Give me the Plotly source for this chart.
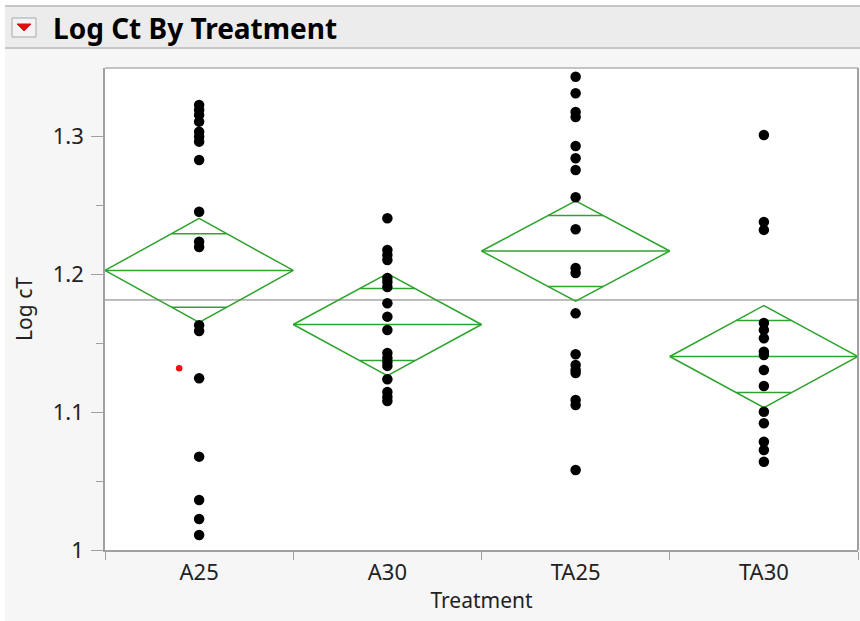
import plotly.graph_objects as go
import math

categories = ["A25", "A30", "TA25", "TA30"]

a25 = [1.3227, 1.3191, 1.3154, 1.3106, 1.3033, 1.2997, 1.2961, 1.2828, 1.2453,
       1.2236, 1.2197, 1.1630, 1.1588, 1.1245, 1.0677, 1.0363, 1.0225, 1.0109]
a30 = [1.2405, 1.2175, 1.2139, 1.2103, 1.1972, 1.1943, 1.1907, 1.1789, 1.1692,
       1.1595, 1.1429, 1.1393, 1.1364, 1.1335, 1.1238, 1.1146, 1.1110, 1.1081]
ta25 = [1.3432, 1.3312, 1.3176, 1.3140, 1.2930, 1.2840, 1.2756, 1.2558, 1.2326,
        1.2045, 1.2009, 1.1716, 1.1419, 1.1342, 1.1305, 1.1284, 1.1088, 1.1051, 1.0580]
ta30 = [1.3009, 1.2379, 1.2321, 1.1646, 1.1596, 1.1535, 1.1438, 1.1414, 1.1305,
        1.1189, 1.1003, 1.0919, 1.0785, 1.0725, 1.0640]
groups = [a25, a30, ta25, ta30]

red_value = [1.1318]       # highlighted point in A25
red_offset = -0.106        # horizontal offset (category units)

group_means = [1.2027, 1.1635, 1.2168, 1.1403]
ci_half = [0.0377, 0.0370, 0.0363, 0.0370]
grand_mean = 1.1813

y_ticks = [1.0, 1.1, 1.2, 1.3]
y_tick_labels = ["1", "1.1", "1.2", "1.3"]

GREEN = "#2fa32f"
FONT = "Noto Sans"

fig = go.Figure()

# grand mean line
fig.add_trace(go.Scatter(x=[-0.5, 3.5], y=[grand_mean, grand_mean], mode="lines",
                         line=dict(color="#7a7a7a", width=1), hoverinfo="skip", showlegend=False))

# means diamonds
for i, (m, h) in enumerate(zip(group_means, ci_half)):
    xs = [i - 0.5, i, i + 0.5, i, i - 0.5]
    ys = [m, m + h, m, m - h, m]
    fig.add_trace(go.Scatter(x=xs, y=ys, mode="lines", line=dict(color=GREEN, width=1.5),
                             hoverinfo="skip", showlegend=False))
    fig.add_trace(go.Scatter(x=[i - 0.5, i + 0.5], y=[m, m], mode="lines",
                             line=dict(color=GREEN, width=1.5), hoverinfo="skip", showlegend=False))
    off = h / math.sqrt(2)
    w = 0.5 * (1 - 1 / math.sqrt(2))
    for yy in (m + off, m - off):
        fig.add_trace(go.Scatter(x=[i - w, i + w], y=[yy, yy], mode="lines",
                                 line=dict(color=GREEN, width=1.5), hoverinfo="skip", showlegend=False))

# points
for i, vals in enumerate(groups):
    fig.add_trace(go.Scatter(x=[i] * len(vals), y=vals, mode="markers",
                             marker=dict(color="black", size=10.5), showlegend=False,
                             name=categories[i]))

fig.add_trace(go.Scatter(x=[0 + red_offset], y=red_value, mode="markers",
                         marker=dict(color="#ee1111", size=6.5), showlegend=False))

W, H = 860, 621
L, R, T, B = 105, 858, 68, 550
def px(x):
    return (x - L) / (R - L)
def py(y):
    return (B - y) / (B - T)

shapes = [
    # white page strips (left / top)
    dict(type="rect", xref="paper", yref="paper", x0=px(0), x1=px(5), y0=py(H), y1=py(0),
         fillcolor="white", line=dict(width=0), layer="below"),
    dict(type="rect", xref="paper", yref="paper", x0=px(0), x1=px(W), y0=py(6), y1=py(0),
         fillcolor="white", line=dict(width=0), layer="below"),
    # header bar
    dict(type="rect", xref="paper", yref="paper", x0=px(5), x1=px(W), y0=py(48), y1=py(6),
         fillcolor="#ececec", line=dict(width=0), layer="below"),
    dict(type="line", xref="paper", yref="paper", x0=px(5), x1=px(W), y0=py(6), y1=py(6),
         line=dict(color="#c6c6c6", width=2)),
    dict(type="line", xref="paper", yref="paper", x0=px(5), x1=px(W), y0=py(48), y1=py(48),
         line=dict(color="#c6c6c6", width=2)),
    # button
    dict(type="rect", xref="paper", yref="paper", x0=px(12), x1=px(36), y0=py(37), y1=py(18),
         fillcolor="#f3f3f3", line=dict(color="#a8a8a8", width=1)),
    dict(type="path", xref="paper", yref="paper",
         path=f"M {px(17)} {py(24)} L {px(31)} {py(24)} L {px(24)} {py(31)} Z",
         fillcolor="#dd1111", line=dict(color="#dd1111", width=1)),
    # plot frame top/right
    dict(type="line", xref="paper", yref="paper", x0=0, x1=1, y0=1, y1=1,
         line=dict(color="#b0b0b0", width=1.5)),
    dict(type="line", xref="paper", yref="paper", x0=1, x1=1, y0=0, y1=1,
         line=dict(color="#a0a0a0", width=2)),
]

fig.update_layout(
    width=W, height=H,
    margin=dict(l=L, r=W - R, t=T, b=H - B),
    paper_bgcolor="#f6f6f6", plot_bgcolor="white",
    font=dict(family=FONT, size=22, color="#222222"),
    shapes=shapes,
    annotations=[dict(text="<b>Log Ct By Treatment</b>", xref="paper", yref="paper",
                      x=px(51), y=py(28), xanchor="left", yanchor="middle", showarrow=False,
                      font=dict(family=FONT, size=28, color="black"))],
    xaxis=dict(range=[-0.5, 3.5], tickvals=[0, 1, 2, 3], ticktext=categories,
               showgrid=False, zeroline=False, showline=True, linecolor="#a0a0a0", linewidth=1.5,
               ticks="", ticklabelstandoff=2,
               minor=dict(tickvals=[-0.5, 0.5, 1.5, 2.5, 3.5], ticks="outside", ticklen=8,
                          tickcolor="#a0a0a0", showgrid=False),
               title=dict(text="Treatment", standoff=8, font=dict(size=21)),
               fixedrange=True),
    yaxis=dict(range=[1.0, 1.3495], tickvals=y_ticks, ticktext=y_tick_labels,
               showgrid=False, zeroline=False, showline=True, linecolor="#a0a0a0", linewidth=1.5,
               ticks="outside", ticklen=12, tickcolor="#a0a0a0", ticklabelstandoff=3,
               minor=dict(tickvals=[1.05, 1.15, 1.25], ticks="outside", ticklen=7,
                          tickcolor="#a0a0a0", showgrid=False),
               title=dict(text="Log cT", standoff=14, font=dict(size=21)),
               fixedrange=True),
)

fig.write_html("out.html", config={"displayModeBar": False},
               post_script="document.body.style.margin='0';")
